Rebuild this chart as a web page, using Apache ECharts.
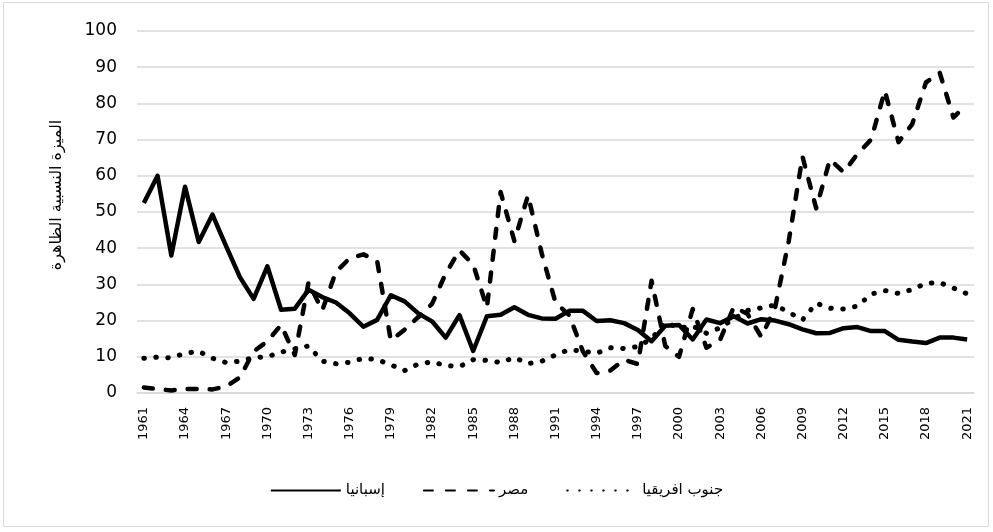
<!DOCTYPE html>
<html>
<head>
<meta charset="utf-8">
<script src="https://cdn.jsdelivr.net/npm/echarts@6/dist/echarts.min.js"></script>
<style>
  html, body { margin: 0; padding: 0; background: #fff; }
  #chart { width: 993px; height: 532px; }
</style>
</head>
<body>
<div id="chart"></div>
<script>
// السنوات
var years = ['1961','1962','1963','1964','1965','1966','1967','1968','1969','1970',
             '1971','1972','1973','1974','1975','1976','1977','1978','1979','1980',
             '1981','1982','1983','1984','1985','1986','1987','1988','1989','1990',
             '1991','1992','1993','1994','1995','1996','1997','1998','1999','2000',
             '2001','2002','2003','2004','2005','2006','2007','2008','2009','2010',
             '2011','2012','2013','2014','2015','2016','2017','2018','2019','2020','2021'];

// إسبانيا
var spain = [52.5, 60, 38, 57, 41.7, 49.3, 40.5, 32, 26, 35,
             23, 23.3, 28.5, 26.5, 25, 22, 18.3, 20.2, 27, 25.3,
             22, 19.8, 15.3, 21.5, 11.6, 21.2, 21.6, 23.7, 21.6, 20.6,
             20.5, 22.7, 22.7, 19.9, 20.1, 19.3, 17.4, 14.3, 18.6, 18.8,
             14.8, 20.3, 19.3, 21.2, 19.2, 20.4, 20.0, 19.0, 17.6, 16.5,
             16.6, 17.9, 18.2, 17.1, 17.1, 14.7, 14.2, 13.8, 15.3, 15.3, 14.8];

// مصر
var egypt = [1.5, 1.1, 0.7, 1.1, 1.1, 1.0, 1.8, 4.3, 11.5, 14.3,
             18.8, 10.5, 30.5, 22.8, 33.5, 37.2, 38.3, 36.5, 14.5, 17.5,
             21, 24.6, 33, 39.4, 35.5, 23.6, 55.5, 42, 54.6, 38.5,
             25, 21.5, 11.5, 5.5, 6.2, 9.2, 8, 31, 13, 10,
             23.2, 12.5, 14.7, 23.8, 21.8, 15.5, 23.5, 42, 65.3, 51,
             64.5, 61, 66, 70, 83.5, 69.3, 74.3, 85.8, 88.5, 76.1, 79.8];

// جنوب افريقيا
var southAfrica = [9.6, 9.9, 9.7, 11, 11.5, 9.6, 8.4, 8.8, 9.8, 10,
                   11.3, 12.2, 13, 8.8, 8.1, 8.5, 9.6, 9.2, 7.8, 6.2,
                   8, 8.6, 7.6, 7.3, 9.2, 9, 8.4, 9.8, 8.1, 8.8,
                   10.5, 12, 11.5, 11, 12.5, 12.3, 12.8, 15, 19.5, 18,
                   18.5, 16.5, 18, 20.5, 22.8, 23.5, 24.3, 22.3, 20.2, 24.8,
                   23.4, 23.2, 24, 27.3, 28.3, 27.5, 28.6, 30.3, 30.5, 29, 27.4];

var seriesNames = ['إسبانيا', 'مصر', 'جنوب افريقيا'];
var yTitle = 'الميزة النسبية الظاهرة';

var myChart = echarts.init(document.getElementById('chart'));

var option = {
    backgroundColor: '#fff',
    animation: false,
    graphic: [
        {
            // الإطار
            type: 'rect',
            shape: { x: 3.5, y: 2.5, width: 985, height: 524 },
            style: { fill: 'none', stroke: '#d9d9d9', lineWidth: 1 }
        },
        {
            // عنوان المحور الرأسي
            type: 'text',
            x: 57,
            y: 195,
            rotation: Math.PI / 2,
            style: {
                text: yTitle,
                fontFamily: 'DejaVu Sans',
                fontSize: 16,
                fill: '#000',
                align: 'center',
                verticalAlign: 'middle'
            }
        }
    ],
    grid: { left: 137, right: 19, top: 31, bottom: 139 },
    legend: {
        bottom: 29,
        left: 'center',
        itemWidth: 70,
        itemHeight: 10,
        itemGap: 38,
        itemStyle: { opacity: 0 },
        textStyle: { fontFamily: 'DejaVu Sans', fontSize: 15, color: '#000' },
        data: seriesNames
    },
    xAxis: {
        type: 'category',
        boundaryGap: true,
        data: years,
        axisLine: { lineStyle: { color: '#d9d9d9', width: 1.5 } },
        axisTick: { show: false },
        axisLabel: {
            interval: 2,
            rotate: 90,
            margin: 14,
            color: '#000',
            fontFamily: 'DejaVu Sans',
            fontSize: 13
        }
    },
    yAxis: {
        type: 'value',
        min: 0,
        max: 100,
        interval: 10,
        axisLine: { show: false },
        axisTick: { show: false },
        axisLabel: { margin: 20, color: '#000', fontFamily: 'DejaVu Sans', fontSize: 17 },
        splitLine: { lineStyle: { color: '#d9d9d9', width: 1.5 } }
    },
    series: [
        {
            name: seriesNames[0], type: 'line', data: spain, symbol: 'none', color: '#000',
            lineStyle: { color: '#000', width: 4.5, join: 'round' }
        },
        {
            name: seriesNames[1], type: 'line', data: egypt, symbol: 'none', color: '#000',
            lineStyle: { color: '#000', width: 4.5, type: [9, 13], cap: 'round', join: 'round' }
        },
        {
            name: seriesNames[2], type: 'line', data: southAfrica, symbol: 'none', color: '#000',
            lineStyle: { color: '#000', width: 5, type: [0.5, 11.5], cap: 'round', join: 'round' }
        }
    ]
};

myChart.setOption(option);
</script>
</body>
</html>
